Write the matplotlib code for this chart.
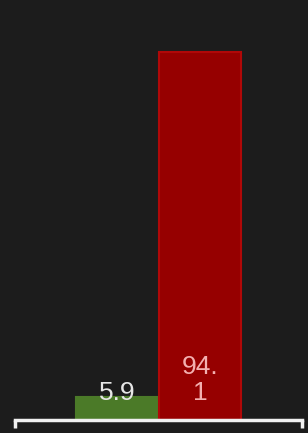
import matplotlib
matplotlib.use("Agg")
import matplotlib.pyplot as plt

categories = ["A", "B"]
values = [5.9, 94.1]
labels = ["5.9", "94.\n1"]
colors = ["#4b7a28", "#960000"]
edges = ["#4b7a28", "#b00808"]
text_colors = ["#e6e6e6", "#f3b0b0"]

W, H = 308, 433
fig = plt.figure(figsize=(W / 100, H / 100), dpi=100)
fig.patch.set_facecolor("#1c1c1c")
ax = fig.add_axes([15 / W, 13 / H, 287 / W, (420 - 29) / H])
ax.set_facecolor("#1c1c1c")

x = list(range(len(categories)))
ax.bar(x, values, width=0.99, color=colors, edgecolor=edges, linewidth=1.5)
ax.set_xlim(-1.23, 2.23)
ax.set_ylim(0, 100)

# labels
ax.annotate(labels[0], (x[0], 0), xytext=(0, 10.5), textcoords="offset points",
            ha="center", va="bottom", color=text_colors[0], fontsize=19,
            family="Liberation Sans")
ax.annotate(labels[1], (x[1], 0), xytext=(0, 10.5), textcoords="offset points",
            ha="center", va="bottom", color=text_colors[1], fontsize=19,
            family="Liberation Sans", linespacing=1.15)

for s in ["top", "right", "left"]:
    ax.spines[s].set_visible(False)
ax.spines["bottom"].set_color("#f0f0f0")
ax.spines["bottom"].set_linewidth(2.5)
ax.set_yticks([])
ax.set_xticks([])
# end brackets
for xe in ax.get_xlim():
    ax.plot([xe, xe], [0, -2.0], color="#f0f0f0", lw=2.5, clip_on=False,
            solid_capstyle="butt")

fig.savefig("out.png", dpi=100, facecolor=fig.get_facecolor())
